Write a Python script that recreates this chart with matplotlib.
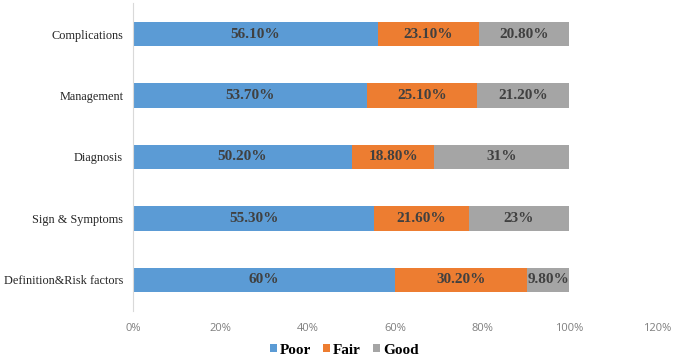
import numpy as np
import matplotlib.pyplot as plt
from matplotlib.ticker import FuncFormatter

categories = ['Definition&Risk factors', 'Sign & Symptoms', 'Diagnosis', 'Management', 'Complications']
poor = [60, 55.3, 50.2, 53.7, 56.1]
fair = [30.2, 21.6, 18.8, 25.1, 23.1]
good = [9.8, 23, 31, 21.2, 20.8]
poor_labels = ['60%', '55.30%', '50.20%', '53.70%', '56.10%']
fair_labels = ['30.20%', '21.60%', '18.80%', '25.10%', '23.10%']
good_labels = ['9.80%', '23%', '31%', '21.20%', '20.80%']

series = [('Poor', poor, poor_labels, '#5B9BD5'),
          ('Fair', fair, fair_labels, '#ED7D31'),
          ('Good', good, good_labels, '#A5A5A5')]

serif = ['Liberation Serif', 'DejaVu Serif']

fig = plt.figure(figsize=(6.75, 3.63), dpi=100)
ax = fig.add_axes([0.197, 0.144, 0.776, 0.847])

y = np.arange(len(categories))
left = np.zeros(len(categories))
for name, vals, labels, color in series:
    vals = np.array(vals) / 100
    bars = ax.barh(y, vals, left=left, height=0.4, color=color, label=name)
    ax.bar_label(bars, labels=labels, label_type='center', fontsize=11,
                 fontweight='bold', color='#404040', family=serif)
    left += vals

ax.set_xlim(0, 1.2)
ax.set_ylim(-0.5, len(categories) - 0.5)
ax.set_xticks(np.arange(0, 1.21, 0.2))
ax.xaxis.set_major_formatter(FuncFormatter(lambda v, p: f'{v*100:.0f}%'))
ax.set_yticks(y)
ax.set_yticklabels(categories, family=serif, fontsize=8.8, color='#262626')
for t in ax.get_xticklabels():
    t.set_fontsize(8)
    t.set_color('#7F7F7F')
    t.set_family(['Open Sans', 'DejaVu Sans'])
ax.tick_params(length=0)
ax.tick_params(axis='x', pad=9)
ax.tick_params(axis='y', pad=7)
for s in ['top', 'right', 'bottom']:
    ax.spines[s].set_visible(False)
ax.spines['left'].set_color('#D9D9D9')

fig.legend(loc='lower center', bbox_to_anchor=(0.51, -0.02), ncol=3, frameon=False,
           prop={'family': serif, 'weight': 'bold', 'size': 11},
           handlelength=0.45, handleheight=0.45, handletextpad=0.2, columnspacing=0.8)

fig.savefig('out.png', dpi=100)
